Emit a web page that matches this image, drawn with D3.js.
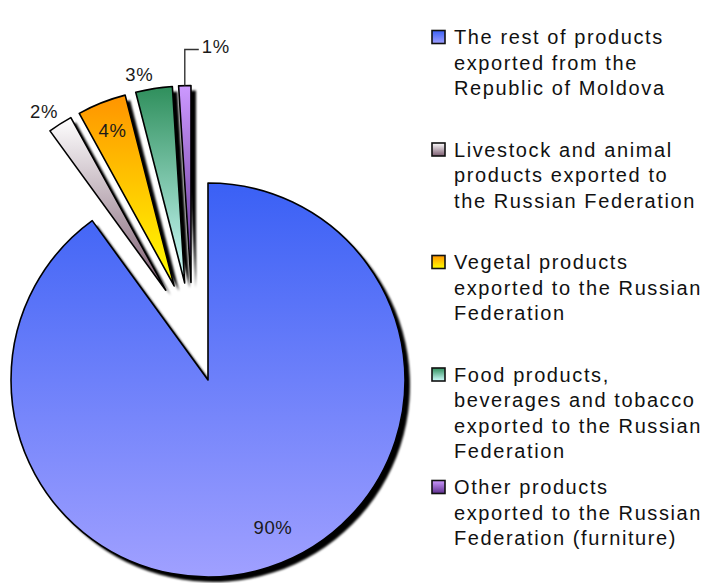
<!DOCTYPE html>
<html lang="en">
<head>
  <meta charset="UTF-8">
  <title>Exports of the Republic of Moldova</title>
  <script src="https://d3js.org/d3.v7.min.js"></script>
  <style>
    body {
      margin: 0;
      padding: 0;
      background: #fff;
    }
    svg {
      display: block;
      font-family: "Liberation Sans", Arial, sans-serif;
    }
    .pct {
      font-size: 18.5px;
      fill: #1a1a1a;
      letter-spacing: 0.6px;
    }
    .legend-text {
      font-size: 20px;
      fill: #111;
      letter-spacing: 1.6px;
    }
  </style>
</head>
<body>
  <svg id="chart" width="707" height="583"></svg>

  <script>
    const categories = [
      "The rest of products exported from the Republic of Moldova",
      "Livestock and animal products exported to the Russian Federation",
      "Vegetal products exported to the Russian Federation",
      "Food products, beverages and tobacco exported to the Russian Federation",
      "Other products exported to the Russian Federation (furniture)"
    ];
    const values = [90, 2, 4, 3, 1];
    const pctLabels = ["90%", "2%", "4%", "3%", "1%"];
    const legendLines = [
      ["The rest of products", "exported from the", "Republic of Moldova"],
      ["Livestock and animal", "products exported to", "the Russian Federation"],
      ["Vegetal products", "exported to the Russian", "Federation"],
      ["Food products,", "beverages and tobacco", "exported to the Russian", "Federation"],
      ["Other products", "exported to the Russian", "Federation (furniture)"]
    ];
    // top / bottom colour of each slice gradient
    const colors = [
      ["#3a60f5", "#a0a0ff"],
      ["#ffffff", "#7a5a6e"],
      ["#ff9400", "#ffff00"],
      ["#2f8f5c", "#d0ffff"],
      ["#cc99ff", "#5e2f8e"]
    ];

    const svg = d3.select("#chart");
    const cx = 208, cy = 380, R = 197;
    const explode = 50;

    const defs = svg.append("defs");
    colors.forEach((c, i) => {
      const g = defs.append("linearGradient")
        .attr("id", "grad" + i)
        .attr("x1", 0).attr("y1", 0).attr("x2", 0).attr("y2", 1);
      g.append("stop").attr("offset", "0%").attr("stop-color", c[0]);
      g.append("stop").attr("offset", "100%").attr("stop-color", c[1]);
    });
    defs.append("filter").attr("id", "soft")
      .append("feGaussianBlur").attr("stdDeviation", 0.8);

    const pie = d3.pie().sort(null).value(d => d);
    const arcs = pie(values);
    const arc = d3.arc().innerRadius(0).outerRadius(R);

    // small slices are pulled out as a group and a little apart from each other
    const groupMid = (arcs[1].startAngle + arcs[arcs.length - 1].endAngle) / 2;
    const mid = d => (d.startAngle + d.endAngle) / 2;
    function offset(d, i) {
      if (i === 0) return [0, 0];
      const m = mid(d);
      return [explode * (Math.sin(m) + Math.sin(groupMid)), -explode * (Math.cos(m) + Math.cos(groupMid))];
    }
    const polar = (a, r) => [r * Math.sin(a), -r * Math.cos(a)];

    const pieG = svg.append("g").attr("transform", `translate(${cx},${cy})`);

    // shadows
    pieG.selectAll("path.shadow")
      .data(arcs)
      .join("path")
      .attr("class", "shadow")
      .attr("d", arc)
      .attr("fill", "#000")
      .attr("filter", "url(#soft)")
      .attr("transform", (d, i) => {
        const o = offset(d, i);
        return `translate(${o[0] + 5},${o[1] + 5})`;
      });

    pieG.selectAll("path.slice")
      .data(arcs)
      .join("path")
      .attr("class", "slice")
      .attr("d", arc)
      .attr("fill", (d, i) => `url(#grad${i})`)
      .attr("stroke", "#000")
      .attr("stroke-width", 1.6)
      .attr("stroke-linejoin", "round")
      .attr("transform", (d, i) => `translate(${offset(d, i)})`);

    // percentage labels
    arcs.forEach((d, i) => {
      const o = offset(d, i);
      const m = mid(d);
      const v = values[i];
      const t = pieG.append("text").attr("class", "pct")
        .attr("dominant-baseline", "central")
        .text(pctLabels[i]);
      if (v >= 4) {
        const a = i === 0 ? m - 0.1 : m;
        const p = polar(a, R * (i === 0 ? 0.82 : 0.85));
        t.attr("x", o[0] + p[0]).attr("y", o[1] + p[1]).attr("text-anchor", "middle");
      } else if (v >= 2) {
        const bb = t.node().getBBox();
        const p = polar(m, R + 4);
        const x = o[0] + p[0] + Math.sign(Math.sin(m)) * bb.width / 2;
        const y = o[1] + p[1] - Math.cos(m) * bb.height / 2;
        t.attr("x", x).attr("y", y).attr("text-anchor", "middle");
      } else {
        const p = polar(m, R);
        const x0 = o[0] + p[0], y0 = o[1] + p[1];
        const ey = y0 - 36, ex = x0 + 14;
        pieG.append("path")
          .attr("d", `M${x0},${y0}V${ey}H${ex}`)
          .attr("fill", "none").attr("stroke", "#333").attr("stroke-width", 1.4);
        t.attr("x", ex + 3).attr("y", ey - 3);
      }
    });

    // legend
    const legendX = 432, legendTop = 37, slot = 112.5, lineH = 25.6;
    const leg = svg.append("g");
    const items = leg.selectAll("g")
      .data(categories)
      .join("g")
      .attr("transform", (d, i) => `translate(${legendX},${legendTop + i * slot})`);

    items.append("rect")
      .attr("x", 0).attr("y", -6.5)
      .attr("width", 13).attr("height", 13)
      .attr("fill", (d, i) => `url(#grad${i})`)
      .attr("stroke", "#111")
      .attr("stroke-width", 1.6);

    items.append("text")
      .attr("class", "legend-text")
      .attr("x", 22)
      .attr("y", 0)
      .selectAll("tspan")
      .data((d, i) => legendLines[i])
      .join("tspan")
      .attr("x", 22)
      .attr("y", (d, j) => j * lineH)
      .attr("dominant-baseline", "central")
      .text(d => d);
  </script>
</body>
</html>
